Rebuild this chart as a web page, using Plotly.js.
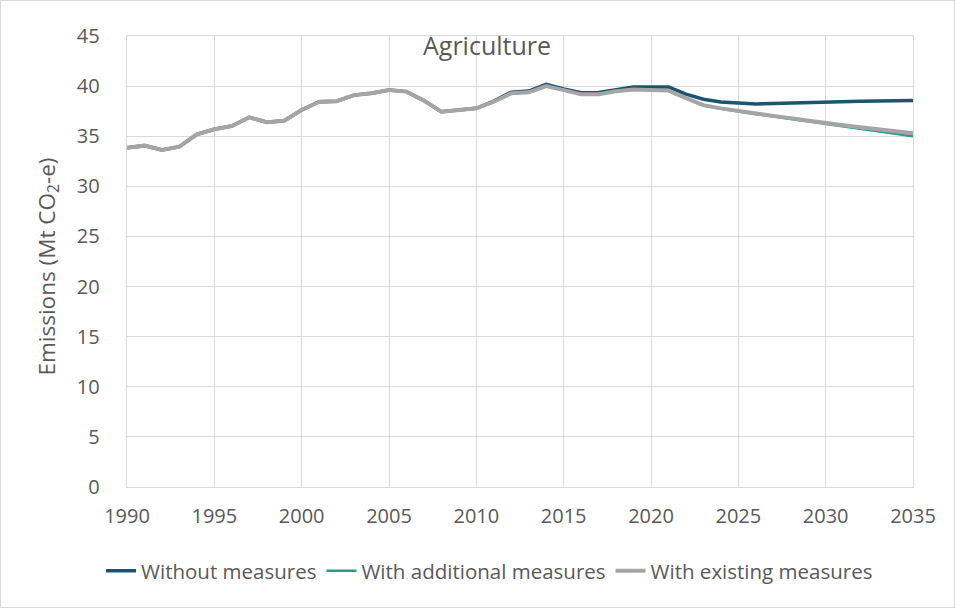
<!DOCTYPE html>
<html>
<head>
<meta charset="utf-8">
<script src="https://cdn.plot.ly/plotly-3.0.1.min.js"></script>
<style>
html,body{margin:0;padding:0;background:#fff;}
#wrap{position:relative;width:955px;height:608px;}
#chart{width:955px;height:608px;}
#frame{position:absolute;left:0;top:0;width:955px;height:608px;box-sizing:border-box;border:1px solid #d9d9d9;pointer-events:none;}
</style>
</head>
<body>
<div id="wrap"><div id="chart"></div><div id="frame"></div></div>
<script>
var years = [1990,1991,1992,1993,1994,1995,1996,1997,1998,1999,
             2000,2001,2002,2003,2004,2005,2006,2007,2008,2009,
             2010,2011,2012,2013,2014,2015,2016,2017,2018,2019,
             2020,2021,2022,2023,2024,2025,2026,2027,2028,2029,
             2030,2031,2032,2033,2034,2035];

var withoutMeasures = [33.86,34.06,33.63,33.96,35.19,35.69,36.02,36.89,36.39,36.55,
                       37.62,38.45,38.50,39.10,39.28,39.60,39.45,38.55,37.45,37.62,
                       37.79,38.50,39.40,39.50,40.18,39.72,39.33,39.36,39.60,39.92,
                       39.92,39.92,39.20,38.69,38.42,38.28,38.22,38.26,38.32,38.38,
                       38.42,38.45,38.48,38.51,38.54,38.57];

var withAdditional = [33.86,34.06,33.63,33.96,35.19,35.69,36.02,36.89,36.39,36.55,
                      37.62,38.45,38.50,39.10,39.28,39.60,39.45,38.55,37.45,37.62,
                      37.79,38.45,39.28,39.38,40.00,39.60,39.18,39.20,39.48,39.65,
                      39.60,39.55,38.78,38.07,37.74,37.45,37.20,36.96,36.72,36.46,
                      36.20,35.97,35.74,35.50,35.25,35.00];

var withExisting = [33.86,34.06,33.63,33.96,35.19,35.69,36.02,36.89,36.39,36.55,
                    37.62,38.45,38.50,39.10,39.28,39.60,39.45,38.55,37.45,37.62,
                    37.79,38.45,39.28,39.38,40.00,39.60,39.18,39.20,39.48,39.65,
                    39.60,39.55,38.80,38.10,37.78,37.50,37.25,37.03,36.80,36.55,
                    36.30,36.10,35.90,35.70,35.50,35.30];

var seriesNames = ["Without measures","With additional measures","With existing measures"];
var chartTitle = "Agriculture";
var yTitle = "Emissions (Mt CO<sub>2</sub>-e)";
var xTicks = [1990,1995,2000,2005,2010,2015,2020,2025,2030,2035];
var yTicks = [0,5,10,15,20,25,30,35,40,45];

var FONT = '"Open Sans", "DejaVu Sans", sans-serif';
var TXT = '#595959';
var GRID = '#d9d9d9';

var traces = [
  {x: years, y: withoutMeasures, name: seriesNames[0], type: 'scatter', mode: 'lines',
   line: {color: '#1b5470', width: 3.5}},
  {x: years, y: withAdditional, name: seriesNames[1], type: 'scatter', mode: 'lines',
   line: {color: '#2a9d87', width: 2.5}},
  {x: years, y: withExisting, name: seriesNames[2], type: 'scatter', mode: 'lines',
   line: {color: '#a5a5a5', width: 4}}
];

var layout = {
  width: 955, height: 608,
  margin: {l: 127, r: 42, t: 36, b: 121, pad: 0},
  paper_bgcolor: '#ffffff', plot_bgcolor: '#ffffff',
  font: {family: FONT, color: TXT, size: 20},
  showlegend: true,
  legend: {orientation: 'h', xref: 'container', x: 0.5126, xanchor: 'center',
           yref: 'container', y: 0.061, yanchor: 'middle',
           font: {family: FONT, size: 20.5, color: TXT}, tracegroupgap: 0,
           bgcolor: 'rgba(0,0,0,0)'},
  xaxis: {range: [1990, 2035], tickmode: 'array', tickvals: xTicks, ticktext: xTicks.map(String),
          showgrid: true, gridcolor: GRID, gridwidth: 1, zeroline: false,
          showline: true, linecolor: GRID, linewidth: 1.3, mirror: true,
          ticks: '', ticklabelstandoff: 11, tickfont: {family: FONT, size: 20, color: TXT}},
  yaxis: {range: [0, 45], tickmode: 'array', tickvals: yTicks, ticktext: yTicks.map(String),
          showgrid: true, gridcolor: GRID, gridwidth: 1, zeroline: false,
          showline: true, linecolor: GRID, linewidth: 1.3, mirror: true,
          ticks: '', ticklabelstandoff: 22, tickfont: {family: FONT, size: 20, color: TXT}},
  annotations: [
    {text: chartTitle, xref: 'paper', yref: 'paper', x: 0.458, y: 0.98,
     xanchor: 'center', yanchor: 'middle', showarrow: false,
     font: {family: FONT, size: 25, color: TXT}},
    {text: yTitle, xref: 'paper', yref: 'paper', x: -0.101, y: 0.488,
     xanchor: 'center', yanchor: 'middle', textangle: -90, showarrow: false,
     font: {family: FONT, size: 22.5, color: TXT}}
  ]
};

Plotly.newPlot('chart', traces, layout, {displayModeBar: false, staticPlot: true});
</script>
</body>
</html>
